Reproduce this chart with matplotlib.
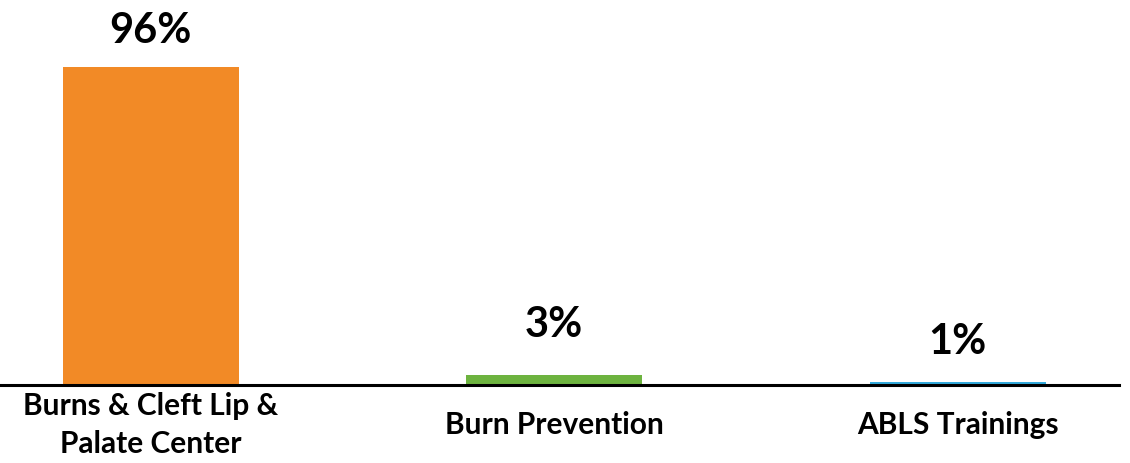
import matplotlib
matplotlib.use("Agg")
import matplotlib.pyplot as plt
from matplotlib.transforms import blended_transform_factory

categories = ["Burns & Cleft Lip &\nPalate Center", "Burn Prevention", "ABLS Trainings"]
values = [96, 3, 1]
labels = ["96%", "3%", "1%"]
colors = ["#F28A26", "#6DB33F", "#33AADC"]

W, H = 1130, 463
fig = plt.figure(figsize=(W / 100, H / 100), dpi=100)
# axes spanning x 0..1119 px, y from baseline 385 px up to top
ax = fig.add_axes([0, (H - 385) / H, 1119 / W, 385 / H])

x = list(range(len(categories)))
bars = ax.bar(x, values, width=0.436, color=colors, zorder=2)

ax.set_xlim(-0.374, 2.4)
ax.set_ylim(0, 116.2)

for s in ["top", "right", "left"]:
    ax.spines[s].set_visible(False)
ax.spines["bottom"].set_linewidth(2.2)
ax.spines["bottom"].set_color("black")
ax.spines["bottom"].set_zorder(3)
ax.set_yticks([])
ax.set_xticks([])

font = ["Lato", "DejaVu Sans"]
label_offsets = [17, 31, 21]
for xi, v, lab, off in zip(x, values, labels, label_offsets):
    ax.annotate(lab, (xi, v), xytext=(0, off), textcoords="offset pixels",
                ha="center", va="bottom", fontsize=30, fontweight="bold",
                family=font, color="black")

trans = blended_transform_factory(ax.transData, fig.transFigure)
for xi, cat in zip(x, categories):
    ax.text(xi, 1 - 425 / H, cat, transform=trans, ha="center", va="center",
            multialignment="center", fontsize=21.5, fontweight="bold",
            family=font, color="black", linespacing=1.45)

fig.savefig("out.png", dpi=100)
